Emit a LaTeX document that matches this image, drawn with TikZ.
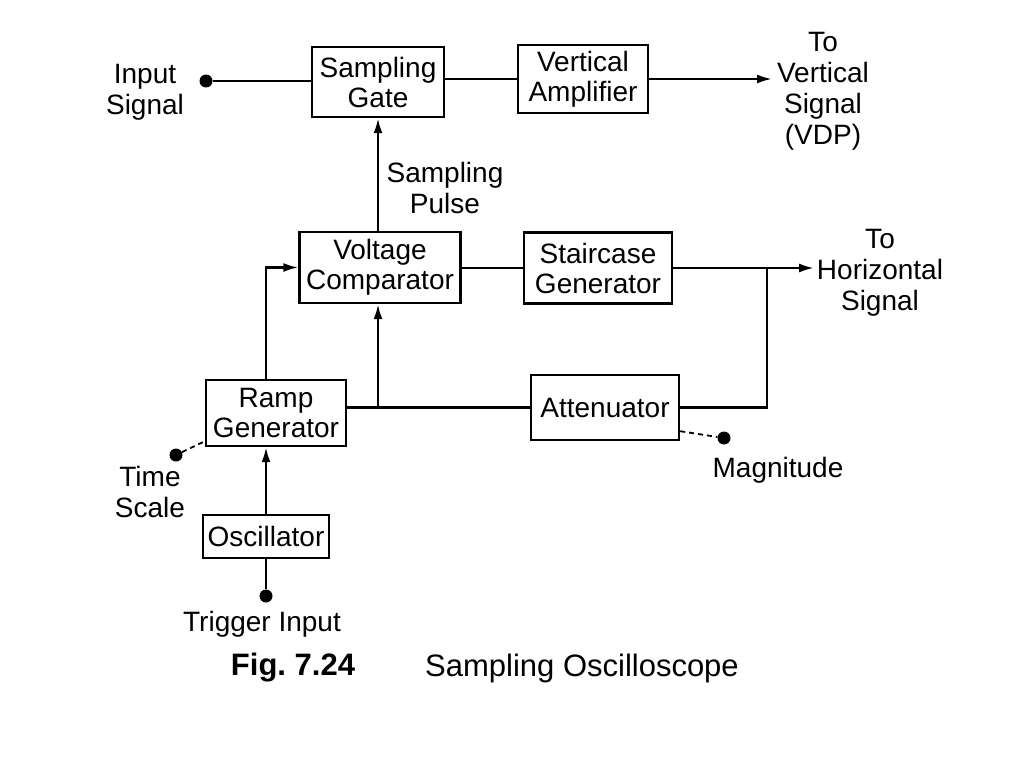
\documentclass[tikz,border=0pt]{standalone}
\usepackage{fontspec}
\setmainfont{Liberation Sans}
\usetikzlibrary{arrows.meta,calc}
\frenchspacing
\begin{document}
\begin{tikzpicture}[x=1pt,y=-1pt,
 box/.style={draw,line width=2.4pt,inner sep=0pt,align=center,font=\fontsize{28}{30}\selectfont},
 lbl/.style={align=center,font=\fontsize{28}{31}\selectfont,inner sep=0pt},
 wire/.style={line width=2.4pt},
 arr/.style={wire,-{Latex[length=15pt,width=9pt]}},
 dotn/.style={circle,fill,inner sep=0pt,minimum size=13pt},
 dsh/.style={line width=1.8pt,dash pattern=on 5pt off 4pt}]
\useasboundingbox[fill=white] (0,0) rectangle (1024,768);
% boxes
\node[box,minimum width=132pt,minimum height=70pt] (sg) at (378,82) {Sampling\\Gate};
\node[box,minimum width=130pt,minimum height=68pt] (va) at (583,79) {Vertical\\Amplifier};
\node[box,minimum width=161pt,minimum height=71pt] (vc) at (380,267.5) {Voltage\\Comparator};
\node[box,minimum width=148pt,minimum height=71pt] (sc) at (598,268) {Staircase\\Generator};
\node[box,minimum width=140pt,minimum height=66pt] (rg) at (276,413) {Ramp\\Generator};
\node[box,minimum width=148pt,minimum height=65pt] (at) at (605,407.5) {Attenuator};
\node[box,minimum width=126pt,minimum height=43pt] (os) at (266,536.5) {Oscillator};
% dots
\node[dotn] (indot) at (206,81) {};
\node[dotn] (trig) at (266,596) {};
\node[dotn] (ts) at (176,455) {};
\node[dotn] (mg) at (724,438) {};
% labels
\node[lbl] (linput) at (145,92) {Input\\Signal};
\node[lbl] (lvert) at (823,91) {To\\Vertical\\Signal\\(VDP)};
\node[lbl] (lpulse) at (445,188) {Sampling\\Pulse};
\node[lbl] (lhor) at (880,273) {To\\Horizontal\\Signal};
\node[lbl] (ltime) at (150,492) {Time\\Scale};
\node[lbl] (lmag) at (778,470) {Magnitude};
\node[lbl] (ltrig) at (262,624) {Trigger Input};
\node[lbl,font=\fontsize{31}{34}\selectfont\bfseries] (lfig) at (293,668) {Fig. 7.24};
\node[lbl,font=\fontsize{31}{34}\selectfont] (lcap) at (582,668) {Sampling Oscilloscope};
% coordinates
\coordinate (tov) at (772,79);
\coordinate (toh) at (814,268);
\coordinate (j1) at (767,268);
\coordinate (j2) at (378,407.5);
% connectors
\draw[wire] (indot) -- (indot -| sg.west);
\draw[wire] (sg.east |- va) -- (va.west);
\draw[arr] (va.east) -- (tov);
\draw[arr] (vc.north -| sg.south) -- (sg.south);
\draw[wire] (vc.east |- sc) -- (sc.west);
\draw[arr] (sc.east) -- (toh);
\draw[wire] (j1) |- (at.east);
\draw[wire] (rg.east |- at) -- (at.west);
\draw[arr] (j2) -- (j2 |- vc.south);
\draw[arr] ($(rg.north)+(-10,0)$) |- (vc.west);
\draw[arr] (os.north) -- (os.north |- rg.south);
\draw[wire] (trig) -- (os.south);
\draw[dsh] (ts) -- ($(rg.south west)+(0,-6)$);
\draw[dsh] ($(at.south east)+(0,-10)$) -- (mg);
\end{tikzpicture}
\end{document}
